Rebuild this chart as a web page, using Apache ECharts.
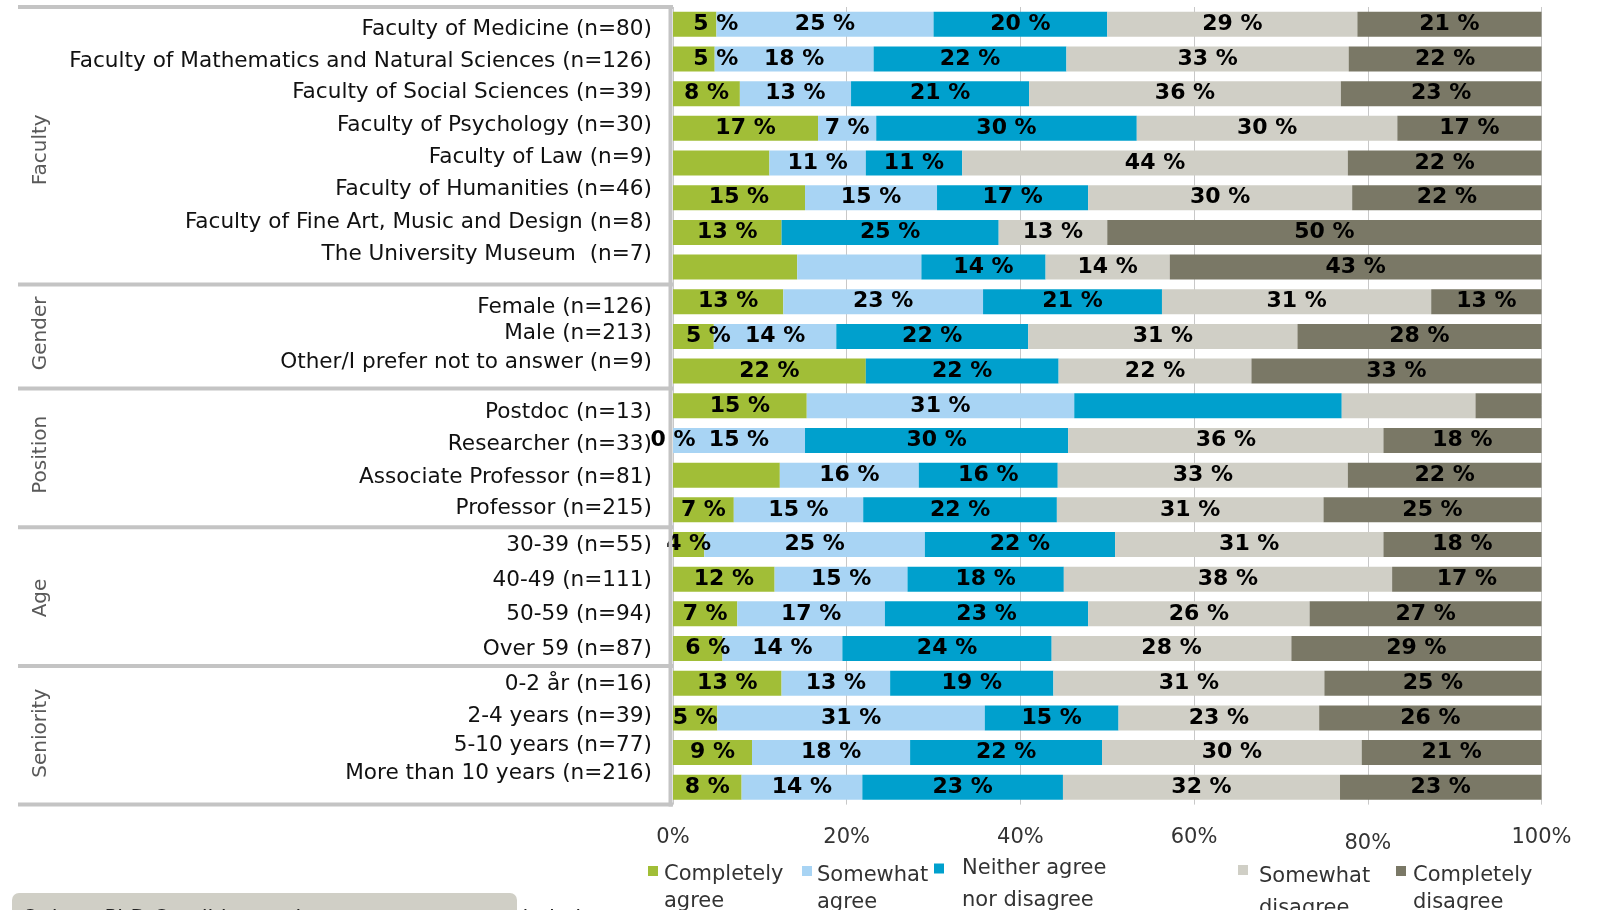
<!DOCTYPE html>
<html>
<head>
<meta charset="utf-8">
<title>Agreement by faculty, gender, position, age and seniority</title>
<script src="https://cdn.jsdelivr.net/npm/echarts@6/dist/echarts.min.js"></script>
<style>
    html, body { margin: 0; padding: 0; background: #fff; }
    #chart_main { width: 1598px; height: 910px; }
</style>
</head>
<body>
<div id="chart_main"></div>
<script>
var categories = [
    'Faculty of Medicine (n=80)',
    'Faculty of Mathematics and Natural Sciences (n=126)',
    'Faculty of Social Sciences (n=39)',
    'Faculty of Psychology (n=30)',
    'Faculty of Law (n=9)',
    'Faculty of Humanities (n=46)',
    'Faculty of Fine Art, Music and Design (n=8)',
    'The University Museum  (n=7)',
    'Female (n=126)',
    'Male (n=213)',
    'Other/I prefer not to answer (n=9)',
    'Postdoc (n=13)',
    'Researcher (n=33)',
    'Associate Professor (n=81)',
    'Professor (n=215)',
    '30-39 (n=55)',
    '40-49 (n=111)',
    '50-59 (n=94)',
    'Over 59 (n=87)',
    '0-2 år (n=16)',
    '2-4 years (n=39)',
    '5-10 years (n=77)',
    'More than 10 years (n=216)'
];
var groups = ['Faculty', 'Gender', 'Position', 'Age', 'Seniority'];
var groupSizes = [8, 3, 4, 4, 4];

var seriesNames = ['Completely agree', 'Somewhat agree', 'Neither agree nor disagree', 'Somewhat disagree', 'Completely disagree'];
var legendLines = [['Completely', 'agree'], ['Somewhat', 'agree'], ['Neither agree', 'nor disagree'], ['Somewhat', 'disagree'], ['Completely', 'disagree']];

var completelyAgree  = [5.0, 4.8, 7.7, 16.7, 11.1, 15.2, 12.5, 14.3, 12.7, 4.7, 22.2, 15.4, 0, 12.3, 7.0, 3.6, 11.7, 7.4, 5.7, 12.5, 5.1, 9.1, 7.9];
var somewhatAgree    = [25.0, 18.3, 12.8, 6.7, 11.1, 15.2, 0, 14.3, 23.0, 14.1, 0, 30.8, 15.2, 16.0, 14.9, 25.4, 15.3, 17.0, 13.8, 12.5, 30.8, 18.2, 13.9];
var neitherAgree     = [20.0, 22.2, 20.5, 30.0, 11.1, 17.4, 25.0, 14.3, 20.6, 22.1, 22.2, 30.8, 30.3, 16.0, 22.3, 21.9, 18.0, 23.4, 24.1, 18.8, 15.4, 22.1, 23.1];
var somewhatDisagree = [28.8, 32.5, 35.9, 30.0, 44.4, 30.4, 12.5, 14.3, 31.0, 31.0, 22.2, 15.4, 36.3, 33.4, 30.7, 30.9, 37.8, 25.5, 27.6, 31.2, 23.1, 29.9, 31.9];
var completelyDisagree = [21.2, 22.2, 23.1, 16.6, 22.3, 21.8, 50.0, 42.8, 12.7, 28.1, 33.4, 7.6, 18.2, 22.3, 25.1, 18.2, 17.2, 26.7, 28.8, 25.0, 25.6, 20.7, 23.2];

// segments that carry no value label in the original: [row, series]
var unlabeled = [[4, 0], [6, 1], [7, 0], [7, 1], [10, 1], [11, 2], [11, 3], [11, 4], [13, 0]];

var footnote = 'Only to PhD Candidates whose answers are excluded';

var fontFamily = 'DejaVu Sans';
var colors = ['#a1be37', '#a8d4f4', '#00a0cd', '#d0cfc6', '#7a7866'];
var values = [completelyAgree, somewhatAgree, neitherAgree, somewhatDisagree, completelyDisagree];

// layout quirks copied from the original
var rowLabelShift = [5, 2, -1, -2.5, -6, -8, -10.5, -13, 6, -3, -9, 6.5, 3.5, 2, -1, 1, 1, 1, 1, 1, -1.5, -7, -13.5];
var groupLabelShift = [4, -3, -3, 1.5, -2];
var labelNudge = [[0, 0, 21], [1, 0, 22], [9, 0, 15], [18, 0, 10]]; // [row, series, px right]
var legendLeft = [648, 802, 934, 1238, 1396];
var legendShift = [4, 5, 0, 7, 5];
var legendLineHeight = [27, 27, 32, 32, 27];
var legendIndent = [1, 0, 13, 6, 2];

function findIn(list, row, s) {
    for (var i = 0; i < list.length; i++) {
        if (list[i][0] === row && list[i][1] === s) return list[i];
    }
    return null;
}

var myChart = echarts.init(document.getElementById('chart_main'));

var series = seriesNames.map(function (name, s) {
    return {
        name: name,
        type: 'bar',
        stack: 'total',
        barWidth: 25,
        itemStyle: { color: colors[s] },
        label: {
            show: true,
            position: 'inside',
            color: '#000',
            fontWeight: 'bold',
            fontSize: 22,
            fontFamily: fontFamily,
            textBorderWidth: 0,
            formatter: function (p) {
                return Math.round(p.value) + ' %';
            }
        },
        data: values[s].map(function (v, row) {
            if (findIn(unlabeled, row, s)) return { value: v, label: { show: false } };
            var nudge = findIn(labelNudge, row, s);
            if (nudge) return { value: v, label: { offset: [nudge[2], 0] } };
            return v;
        })
    };
});

var legends = seriesNames.map(function (name, s) {
    var lh = legendLineHeight[s];
    var d = legendShift[s];
    return {
        data: [name],
        left: legendLeft[s],
        top: 874 + d - lh / 2,
        padding: 0,
        itemGap: 0,
        icon: 'rect',
        itemWidth: 10,
        itemHeight: 10,
        selectedMode: false,
        formatter: function () {
            return '{t|' + legendLines[s][0] + '}\n{t|' + legendLines[s][1] + '}';
        },
        textStyle: {
            fontFamily: fontFamily,
            fontSize: 21,
            color: '#333',
            padding: [lh + 2 * d, 0, 0, legendIndent[s]],
            rich: {
                t: { fontFamily: fontFamily, fontSize: 21, color: '#333', lineHeight: lh }
            }
        }
    };
});

var rowRich = {};
rowLabelShift.forEach(function (o, i) {
    rowRich['r' + i] = {
        fontSize: 21.6,
        fontFamily: fontFamily,
        color: '#111',
        padding: o > 0 ? [2 * o, 0, 0, 0] : [0, 0, -2 * o, 0]
    };
});

option = {
    animation: false,
    backgroundColor: '#fff',
    grid: {
        left: 673,
        right: 56.5,
        top: 7,
        bottom: 105.4,
        outerBoundsMode: 'none'
    },
    legend: legends,
    xAxis: {
        type: 'value',
        min: 0,
        max: 100,
        interval: 20,
        axisLine: { show: false },
        axisTick: { show: false },
        splitLine: { lineStyle: { color: '#c8c8c8', width: 1 } },
        axisLabel: {
            margin: 22,
            fontSize: 21,
            fontFamily: fontFamily,
            color: '#333',
            formatter: function (v) {
                return v === 80 ? '{low|' + v + '%}' : v + '%';
            },
            rich: {
                low: { fontSize: 21, fontFamily: fontFamily, color: '#333', padding: [6, 0, 0, 0] }
            }
        }
    },
    yAxis: {
        type: 'category',
        inverse: true,
        data: categories,
        axisLine: { show: false },
        axisTick: { show: false },
        axisLabel: {
            interval: 0,
            margin: 21,
            fontSize: 21.6,
            fontFamily: fontFamily,
            color: '#111',
            formatter: function (value, index) {
                return '{r' + index + '|' + value + '}';
            },
            rich: rowRich
        }
    },
    series: series
};

myChart.setOption(option);

// label table: group separators, right border and rotated group names
var rowY = function (i) { return myChart.convertToPixel({ yAxisIndex: 0 }, i); };
var band = rowY(1) - rowY(0);
var plotLeft = myChart.convertToPixel({ xAxisIndex: 0 }, 0);
var tableTop = rowY(0) - band / 2;
var tableBottom = rowY(categories.length - 1) + band / 2;
var elements = [];

elements.push({
    type: 'line', z: 5,
    shape: { x1: 18, y1: tableTop, x2: plotLeft, y2: tableTop },
    style: { stroke: '#c4c4c4', lineWidth: 4 }
});
elements.push({
    type: 'line', z: 5,
    shape: { x1: plotLeft - 2.5, y1: tableTop, x2: plotLeft - 2.5, y2: tableBottom + 2 },
    style: { stroke: '#c4c4c4', lineWidth: 4 }
});

var start = 0;
groups.forEach(function (g, k) {
    var end = start + groupSizes[k] - 1;
    var top = rowY(start) - band / 2;
    var bottom = rowY(end) + band / 2;
    elements.push({
        type: 'line', z: 5,
        shape: { x1: 18, y1: bottom, x2: plotLeft, y2: bottom },
        style: { stroke: '#c4c4c4', lineWidth: 4 }
    });
    elements.push({
        type: 'text', z: 5,
        x: 41,
        y: (top + bottom) / 2 + groupLabelShift[k],
        rotation: Math.PI / 2,
        style: {
            text: g,
            fill: '#595959',
            fontSize: 20,
            fontFamily: fontFamily,
            align: 'center',
            verticalAlign: 'middle',
            textAlign: 'center',
            textVerticalAlign: 'middle'
        }
    });
    start = end + 1;
});

// footnote box, cut off by the bottom edge as in the original
elements.push({
    type: 'rect', z: 5,
    shape: { x: 12, y: 893, width: 505, height: 40, r: 7 },
    style: { fill: '#d0cfc6' }
});
elements.push({
    type: 'text', z: 6,
    x: 22,
    y: 909,
    style: {
        text: footnote,
        fill: '#222',
        fontSize: 21,
        fontFamily: fontFamily,
        verticalAlign: 'top',
        textVerticalAlign: 'top'
    }
});

myChart.setOption({ graphic: elements });
</script>
</body>
</html>
